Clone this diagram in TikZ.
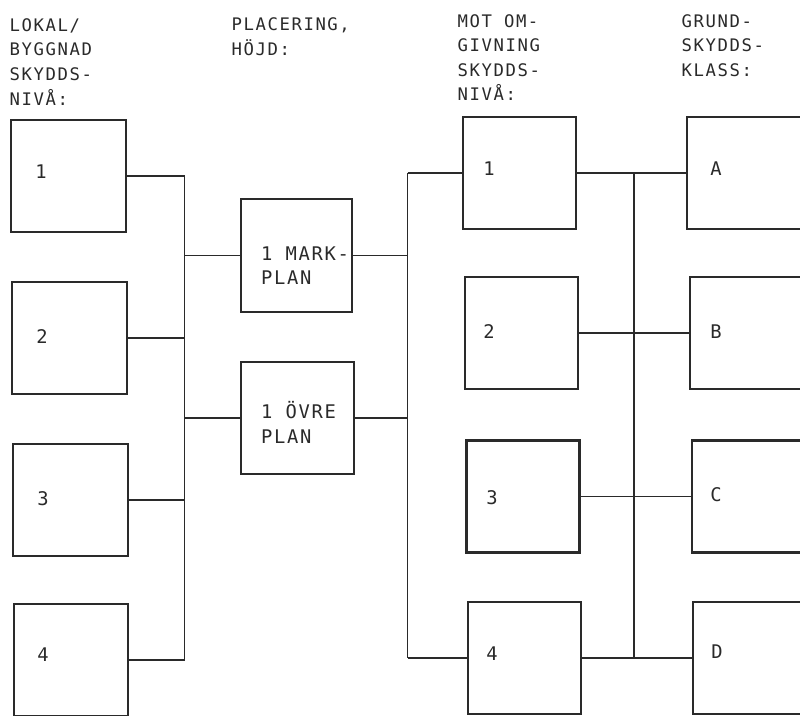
\documentclass[tikz,border=0pt]{standalone}
\usepackage{fontspec}
\newfontfamily\twfamily[LetterSpace=9]{DejaVu Sans Mono}
\newcommand\hdrfont{\twfamily\fontsize{17.3}{20}\selectfont}
\newcommand\lblfont{\twfamily\fontsize{18.8}{22}\selectfont}
\definecolor{ink}{HTML}{2A2A2A}
\begin{document}
\begin{tikzpicture}[x=1pt,y=-1pt,
  box/.style={draw=ink, line width=2.6pt, minimum width=115pt, minimum height=112pt, inner sep=0pt},
  conn/.style={draw=ink, line width=1.6pt},
  hdr/.style={font=\hdrfont, text=ink, anchor=base west, inner sep=0pt},
  lbl/.style={font=\lblfont, text=ink, anchor=base west, inner sep=0pt},
  ch/.style={font=\lblfont, text=ink, anchor=center, inner sep=0pt}]
\useasboundingbox (0,0) rectangle (800,715);
\clip (0,0) rectangle (800,715);

% headers
\node[hdr] (h11) at (9.5,31) {LOKAL/};
\node[hdr] (h12) at (9.5,55.7) {BYGGNAD};
\node[hdr] (h13) at (9.5,80.3) {SKYDDS-};
\node[hdr] (h14) at (9.5,105) {NIVÅ:};
\node[hdr] (h21) at (231.5,30.5) {PLACERING,};
\node[hdr] (h22) at (231.5,55) {HÖJD:};
\node[hdr] (h31) at (457.5,27) {MOT OM-};
\node[hdr] (h32) at (457.5,51.5) {GIVNING};
\node[hdr] (h33) at (457.5,76) {SKYDDS-};
\node[hdr] (h34) at (457.5,100) {NIVÅ:};
\node[hdr] (h41) at (681.5,27) {GRUND-};
\node[hdr] (h42) at (681.5,51.5) {SKYDDS-};
\node[hdr] (h43) at (681.5,76) {KLASS:};

% left column
\node[box] (L1) at (68.5,176) {};
\node[box] (L2) at (69.5,338) {};
\node[box] (L3) at (70.5,500) {};
\node[box, minimum width=114pt] (L4) at (71,660) {};
% middle placement
\node[box, minimum width=111pt, minimum height=113pt] (MARK) at (296.5,255.5) {};
\node[box, minimum width=113pt] (OVRE) at (297.5,418) {};
% surroundings
\node[box, minimum width=113pt] (M1) at (519.5,173) {};
\node[box, minimum width=113pt] (M2) at (521.5,333) {};
\node[box, minimum width=113pt] (M3) at (523,496.5) {};
\node[box, minimum width=113pt] (M4) at (524.5,658) {};
% classes
\node[box] (A) at (744.5,173) {};
\node[box] (B) at (747.5,333) {};
\node[box] (C) at (749.5,496.5) {};
\node[box] (D) at (750.5,658) {};

% labels
\node[ch] (tL1) at (41,172) {1};
\node[ch] (tL2) at (42,336.5) {2};
\node[ch] (tL3) at (43,498.7) {3};
\node[ch] (tL4) at (43,655) {4};
\node[ch] (tM1) at (489,168.5) {1};
\node[ch] (tM2) at (489,331.5) {2};
\node[ch] (tM3) at (492,497.5) {3};
\node[ch] (tM4) at (492,653.5) {4};
\node[ch] (tA) at (716,168.5) {A};
\node[ch] (tB) at (716,331.5) {B};
\node[ch] (tC) at (716,495) {C};
\node[ch] (tD) at (717,651.5) {D};
\node[lbl] (tmark1) at (261,260) {1 MARK-};
\node[lbl] (tmark2) at (261,284) {PLAN};
\node[lbl] (tovre1) at (261,418) {1 ÖVRE};
\node[lbl] (tovre2) at (261,443) {PLAN};

% buses
\coordinate (busL) at (184.5,0);
\coordinate (busM) at (407.5,0);
\coordinate (busR) at (634,0);

% left connectors
\draw[conn] (L1.east) -- (L1.east -| busL);
\draw[conn] (L2.east) -- (L2.east -| busL);
\draw[conn] (L3.east) -- (L3.east -| busL);
\draw[conn] (L4.east) -- (L4.east -| busL);
\draw[conn] (L1.east -| busL) -- (L4.east -| busL);
\draw[conn] (MARK.west -| busL) -- (MARK.west);
\draw[conn] (OVRE.west -| busL) -- (OVRE.west);

% middle connectors
\draw[conn] (MARK.east) -- (MARK.east -| busM);
\draw[conn] (OVRE.east) -- (OVRE.east -| busM);
\draw[conn] (M1.west -| busM) -- (M4.west -| busM);
\draw[conn] (M1.west -| busM) -- (M1.west);
\draw[conn] (M4.west -| busM) -- (M4.west);

% right connectors
\draw[conn] (M1.east) -- (A.west);
\draw[conn] (M2.east) -- (B.west);
\draw[conn] (M3.east) -- (C.west);
\draw[conn] (M4.east) -- (D.west);
\draw[conn] (M1.east -| busR) -- (M4.east -| busR);
\end{tikzpicture}
\end{document}
